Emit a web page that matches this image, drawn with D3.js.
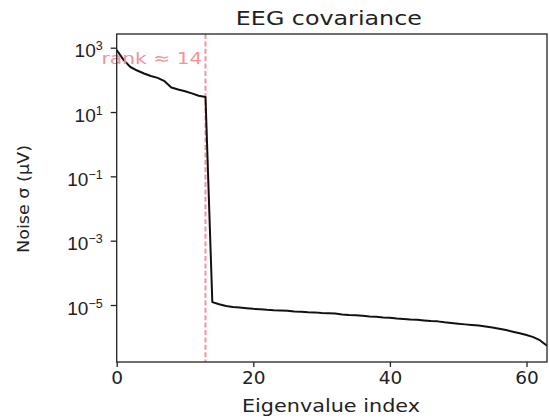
<!DOCTYPE html>
<html>
<head>
<meta charset="utf-8">
<script src="https://cdn.jsdelivr.net/npm/d3@7"></script>
<style>
  html, body { margin: 0; padding: 0; background: #fff; }
  svg { display: block; font-family: "DejaVu Sans", sans-serif; }
</style>
</head>
<body>
<svg id="chart" width="550" height="419"></svg>
<script>
// ---- data ----
const title = "EEG covariance";
const xLabel = "Eigenvalue index";
const yLabel = "Noise σ (μV)";
const rankLabel = "rank ≈ 14";
const rankIndex = 13; // line drawn at rank - 1
const signalSigma = [851, 417, 251, 195, 158, 132, 115, 91, 58, 50, 44, 38, 32, 29.5];
const noiseSigma = [
  1.23e-5, 1.05e-5, 9.3e-6, 8.7e-6, 8.3e-6, 7.9e-6, 7.6e-6, 7.4e-6, 7.1e-6, 6.9e-6,
  6.8e-6, 6.6e-6, 6.3e-6, 6.2e-6, 6.0e-6, 5.9e-6, 5.6e-6, 5.5e-6, 5.4e-6, 5.1e-6,
  4.9e-6, 4.8e-6, 4.6e-6, 4.4e-6, 4.3e-6, 4.1e-6, 4.0e-6, 3.8e-6, 3.7e-6, 3.55e-6,
  3.47e-6, 3.3e-6, 3.16e-6, 3.1e-6, 2.9e-6, 2.75e-6, 2.63e-6, 2.5e-6, 2.4e-6, 2.3e-6,
  2.14e-6, 2.0e-6, 1.82e-6, 1.66e-6, 1.48e-6, 1.32e-6, 1.17e-6, 1.0e-6, 7.9e-7, 5.4e-7
];
const xTicks = [0, 20, 40, 60];
const yTickExponents = [3, 1, -1, -3, -5];
const xDomain = [0, 63];
const yDomain = [Math.pow(10, -6.772), Math.pow(10, 3.426)];

// ---- layout ----
const svg = d3.select("#chart");
const mL = 116.7, mR = 547, mT = 34, mB = 362;

const sigma = signalSigma.concat(noiseSigma);
const data = sigma.map((v, i) => ({ i, v }));

const x = d3.scaleLinear().domain(xDomain).range([mL, mR]);
const y = d3.scaleLog().domain(yDomain).range([mB, mT]);

svg.append("defs").append("clipPath").attr("id", "clip")
  .append("rect").attr("x", mL).attr("y", mT)
  .attr("width", mR - mL).attr("height", mB - mT);

// rank line
svg.append("line")
  .attr("x1", x(rankIndex)).attr("x2", x(rankIndex))
  .attr("y1", mT).attr("y2", mB)
  .attr("stroke", "#f4939b").attr("stroke-width", 2)
  .attr("stroke-dasharray", "5,2.4");

// data line
const line = d3.line().x(d => x(d.i)).y(d => y(d.v));
svg.append("path").datum(data)
  .attr("clip-path", "url(#clip)")
  .attr("d", line)
  .attr("fill", "none").attr("stroke", "#111")
  .attr("stroke-width", 2).attr("stroke-linejoin", "round");

// rank text
svg.append("text")
  .attr("x", x(rankIndex) - 3).attr("y", 64)
  .attr("text-anchor", "end")
  .attr("font-size", 16).attr("fill", "#f4939b")
  .attr("textLength", 101).attr("lengthAdjust", "spacingAndGlyphs")
  .text(rankLabel);

// x axis
const xAxis = d3.axisBottom(x).tickValues(xTicks).tickSize(5).tickPadding(4).tickFormat(d3.format("d"));
const gx = svg.append("g").attr("transform", `translate(0,${mB})`).call(xAxis);
gx.select(".domain").remove();
gx.selectAll(".tick line").attr("stroke", "#222").attr("stroke-width", 1.3);
gx.selectAll(".tick text").attr("font-size", 18.5).attr("fill", "#222")
  .attr("font-family", "DejaVu Sans");

// y axis
const yAxis = d3.axisLeft(y).tickValues(yTickExponents.map(e => Math.pow(10, e))).tickSize(6).tickFormat("");
const gy = svg.append("g").attr("transform", `translate(${mL},0)`).call(yAxis);
gy.select(".domain").remove();
gy.selectAll(".tick line").attr("stroke", "#222").attr("stroke-width", 1.3);
gy.selectAll(".tick").each(function(d) {
  const e = Math.round(Math.log10(d));
  const t = d3.select(this).append("text")
    .attr("x", -14).attr("y", 9)
    .attr("text-anchor", "end")
    .attr("fill", "#222").attr("font-size", 19);
  t.append("tspan").text("10");
  t.append("tspan").attr("font-size", 12.5).attr("dy", -7)
    .text(e < 0 ? "\u2212" + Math.abs(e) : String(e));
});

// frame
svg.append("rect")
  .attr("x", mL).attr("y", mT)
  .attr("width", mR - mL).attr("height", mB - mT)
  .attr("fill", "none").attr("stroke", "#222").attr("stroke-width", 1.3);

// title
svg.append("text")
  .attr("x", (mL + mR) / 2 - 3).attr("y", 25)
  .attr("text-anchor", "middle").attr("font-size", 20).attr("fill", "#222")
  .attr("textLength", 186).attr("lengthAdjust", "spacingAndGlyphs")
  .text(title);

// x label
svg.append("text")
  .attr("x", 331).attr("y", 411.5)
  .attr("text-anchor", "middle").attr("font-size", 18).attr("fill", "#222")
  .attr("textLength", 178).attr("lengthAdjust", "spacingAndGlyphs")
  .text(xLabel);

// y label
svg.append("text")
  .attr("transform", "translate(28.5,199) rotate(-90)")
  .attr("text-anchor", "middle").attr("font-size", 16.5).attr("fill", "#222")
  .attr("textLength", 108).attr("lengthAdjust", "spacingAndGlyphs")
  .text(yLabel);
</script>
</body>
</html>
